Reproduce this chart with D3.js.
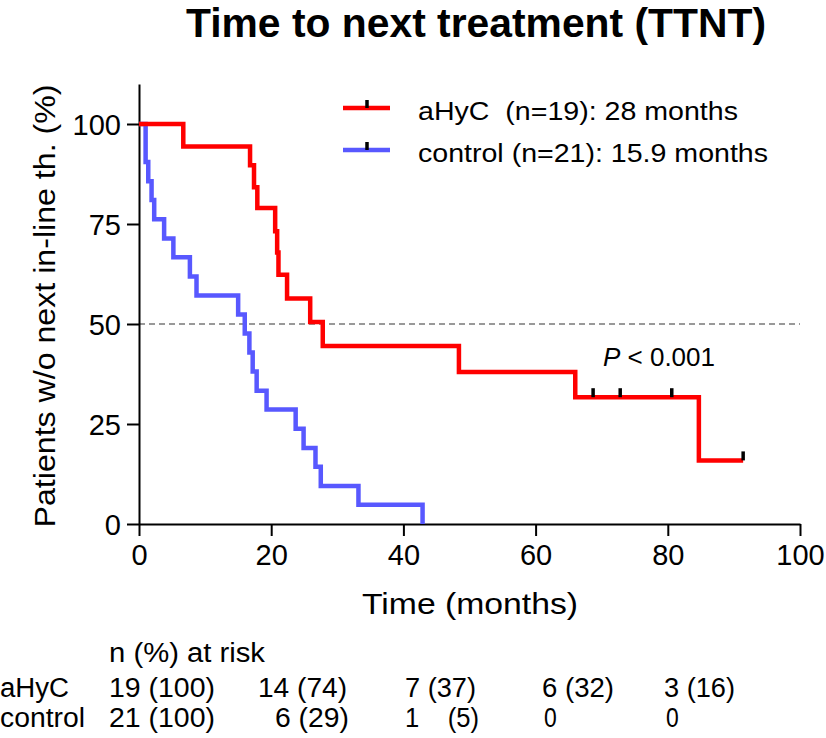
<!DOCTYPE html>
<html>
<head>
<meta charset="utf-8">
<script src="https://cdn.jsdelivr.net/npm/d3@7"></script>
<style>
  html, body { margin: 0; padding: 0; background: #fff; }
  svg { display: block; }
  text { font-family: "Liberation Sans", Arial, sans-serif; fill: #000; }
</style>
</head>
<body>
<svg id="chart" width="826" height="738"></svg>
<script>
// ---------------- DATA ----------------
const title = "Time to next treatment (TTNT)";
const yLabel = "Patients w/o next in-line th. (%)";
const xLabel = "Time (months)";
const xTicks = [0, 20, 40, 60, 80, 100];
const yTicks = [0, 25, 50, 75, 100];

// aHyC (red) Kaplan-Meier steps
const aHyCTimes = [0, 6.7, 16.8, 17.4, 17.9, 20.6, 20.9, 21.1, 22.4, 25.9, 27.8, 48.4, 66.0, 84.7, 91.4];
const aHyCSurv  = [100, 94.4, 89.7, 84.2, 79.0, 73.2, 67.9, 62.3, 56.4, 50.5, 44.5, 38.0, 31.7, 15.9, 15.9];
const aHyCCensor = [68.7, 72.8, 80.6, 91.4];

// control (blue) Kaplan-Meier steps
const controlTimes = [0, 1.0, 1.4, 1.9, 2.3, 3.8, 5.2, 7.7, 8.7, 15.0, 16.0, 16.7, 17.2, 17.8, 19.3, 23.7, 24.9, 26.7, 27.5, 33.2, 42.9];
const controlSurv  = [100, 90.5, 85.7, 81.0, 76.2, 71.4, 66.7, 61.9, 57.1, 52.4, 47.6, 42.9, 38.1, 33.3, 28.6, 23.8, 19.0, 14.3, 9.5, 4.8, 0];
const controlCensor = [];

const legendLabels = ["aHyC  (n=19): 28 months", "control (n=21): 15.9 months"];
const pText = "< 0.001";

const riskHeader = "n (%) at risk";
const riskGroups = ["aHyC", "control"];
const riskAHyC = ["19 (100)", "14 (74)", "7 (37)", "6 (32)", "3 (16)"];
const riskControl = ["21 (100)", "6 (29)", "1    (5)", "0", "0"];

// ---------------- LAYOUT ----------------
const svg = d3.select("#chart");
const red = "#ff0000", blue = "#5858ff";

const x = d3.scaleLinear().domain([0, 100]).range([139, 800]);
const y = d3.scaleLinear().domain([0, 110]).range([524, 84]);

// Title
svg.append("text").attr("x", 186).attr("y", 37)
  .attr("font-size", 40).attr("font-weight", "bold")
  .attr("textLength", 580).attr("lengthAdjust", "spacingAndGlyphs")
  .text(title);

// 50% reference line
svg.append("line")
  .attr("x1", x(0)).attr("x2", x(100)).attr("y1", y(50)).attr("y2", y(50))
  .attr("stroke", "#999").attr("stroke-width", 2).attr("stroke-dasharray", "6,4");

// Axes
const yAxis = d3.axisLeft(y).tickValues(yTicks).tickSize(12).tickSizeOuter(0).tickPadding(6);
const xAxis = d3.axisBottom(x).tickValues(xTicks).tickSize(12).tickSizeOuter(0).tickPadding(6);

const gy = svg.append("g").attr("transform", `translate(${x(0)},0)`).call(yAxis);
const gx = svg.append("g").attr("transform", `translate(0,${y(0)})`).call(xAxis);
[gx, gy].forEach(g => {
  g.select(".domain").attr("stroke", "#000").attr("stroke-width", 2);
  g.selectAll(".tick line").attr("stroke", "#000").attr("stroke-width", 2);
  g.selectAll(".tick text").attr("font-size", 29).attr("fill", "#000")
    .attr("font-family", "'Liberation Sans', Arial, sans-serif");
});
gy.selectAll(".tick text").attr("dy", "0.36em").attr("x", -18);
gx.selectAll(".tick text").attr("dy", "0.92em").attr("y", 14);

// Axis labels
svg.append("text")
  .attr("transform", `translate(55,${(y(0) + y(110)) / 2 + 2}) rotate(-90)`)
  .attr("text-anchor", "middle").attr("font-size", 30)
  .attr("textLength", 443).attr("lengthAdjust", "spacingAndGlyphs")
  .text(yLabel);
svg.append("text").attr("x", 470).attr("y", 614)
  .attr("text-anchor", "middle").attr("font-size", 30)
  .attr("textLength", 216).attr("lengthAdjust", "spacingAndGlyphs")
  .text(xLabel);

// Curves
const line = d3.line().x(d => x(d[0])).y(d => y(d[1])).curve(d3.curveStepAfter);
function drawCurve(times, surv, color, censor) {
  const pts = times.map((t, i) => [t, surv[i]]);
  svg.append("path").datum(pts)
    .attr("d", line).attr("fill", "none")
    .attr("stroke", color).attr("stroke-width", 4.5)
    .attr("stroke-linejoin", "miter").attr("stroke-linecap", "butt");
  const survAt = t => { let s = surv[0]; times.forEach((tt, i) => { if (tt <= t) s = surv[i]; }); return s; };
  svg.append("g").selectAll("line").data(censor).join("line")
    .attr("x1", d => x(d)).attr("x2", d => x(d))
    .attr("y1", d => y(survAt(d)) - 9).attr("y2", d => y(survAt(d)))
    .attr("stroke", "#000").attr("stroke-width", 3.5);
}
drawCurve(controlTimes, controlSurv, blue, controlCensor);
drawCurve(aHyCTimes, aHyCSurv, red, aHyCCensor);

// Legend
const legY = [108, 150];
const legW = [320, 350];
[red, blue].forEach((c, i) => {
  svg.append("line").attr("x1", 343).attr("x2", 390).attr("y1", legY[i]).attr("y2", legY[i])
    .attr("stroke", c).attr("stroke-width", 4.5);
  svg.append("line").attr("x1", 367).attr("x2", 367).attr("y1", legY[i] - 8).attr("y2", legY[i])
    .attr("stroke", "#000").attr("stroke-width", 3.5);
  svg.append("text").attr("x", 418).attr("y", legY[i] + 12)
    .attr("font-size", 26).style("white-space", "pre")
    .attr("textLength", legW[i]).attr("lengthAdjust", "spacingAndGlyphs")
    .text(legendLabels[i]);
});

// P value
const pt = svg.append("text").attr("x", 603).attr("y", 366).attr("font-size", 26)
  .attr("font-family", "Lato, 'Open Sans', sans-serif")
  .attr("textLength", 112).attr("lengthAdjust", "spacingAndGlyphs");
pt.append("tspan").attr("font-style", "italic").text("P");
pt.append("tspan").style("white-space", "pre").text(" " + pText);

// Risk table
const riskFs = 27;
svg.append("text").attr("x", 109).attr("y", 662).attr("font-size", riskFs)
  .attr("textLength", 156).attr("lengthAdjust", "spacingAndGlyphs").text(riskHeader);
const colX = [109, 258, 405, 542, 664];
const rowY = [697, 727];
const widA = [106, 89, 71, 72, 71];
const widC = [106, 74, 74, null, null];
const groupW = [69, 85];
riskGroups.forEach((g, i) => {
  svg.append("text").attr("x", 0).attr("y", rowY[i]).attr("font-size", riskFs)
    .attr("textLength", groupW[i]).attr("lengthAdjust", "spacingAndGlyphs").text(g);
});
riskAHyC.forEach((t, j) => {
  svg.append("text").attr("x", colX[j]).attr("y", rowY[0]).attr("font-size", riskFs)
    .attr("textLength", widA[j]).attr("lengthAdjust", "spacingAndGlyphs").text(t);
});
riskControl.forEach((t, j) => {
  const tx = svg.append("text").attr("x", colX[j] + (j === 1 ? 17 : 0) + (j >= 3 ? 2 : 0))
    .attr("y", rowY[1]).attr("font-size", riskFs).style("white-space", "pre").text(t);
  if (widC[j]) tx.attr("textLength", widC[j]).attr("lengthAdjust", "spacingAndGlyphs");
  else tx.attr("transform", `translate(${colX[j] + 2},${rowY[1]}) scale(0.85,1) translate(${-(colX[j] + 2)},${-rowY[1]})`);
});
</script>
</body>
</html>
